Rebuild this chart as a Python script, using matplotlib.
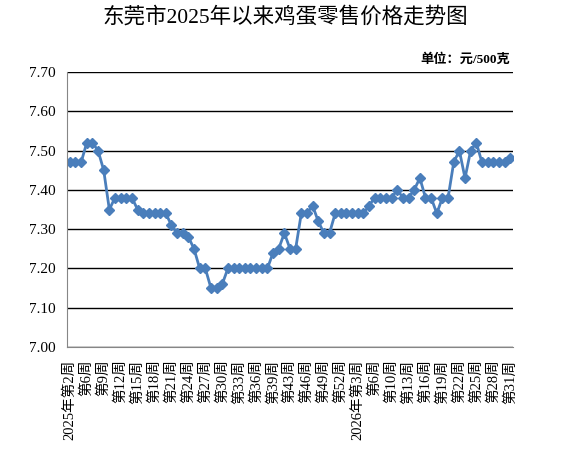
import matplotlib
matplotlib.use('Agg')
import matplotlib.pyplot as plt
import numpy as np

plt.rcParams['font.family'] = ['Liberation Serif', 'Noto Sans CJK SC']

# weeks shown on the x axis (some holiday weeks have no data)
weeks_2025 = [2] + list(range(4, 40)) + list(range(41, 53))
weeks_2026 = list(range(1, 9)) + list(range(10, 32))

prices = [7.47, 7.47, 7.47, 7.52, 7.52, 7.50, 7.45, 7.35, 7.38, 7.38,
          7.38, 7.38, 7.35, 7.34, 7.34, 7.34, 7.34, 7.34, 7.31, 7.29,
          7.29, 7.28, 7.25, 7.20, 7.20, 7.15, 7.15, 7.16, 7.20, 7.20,
          7.20, 7.20, 7.20, 7.20, 7.20, 7.20, 7.24, 7.25, 7.29, 7.25,
          7.25, 7.34, 7.34, 7.36, 7.32, 7.29, 7.29, 7.34, 7.34, 7.34,
          7.34, 7.34, 7.34, 7.36, 7.38, 7.38, 7.38, 7.38, 7.40, 7.38,
          7.38, 7.40, 7.43, 7.38, 7.38, 7.34, 7.38, 7.38, 7.47, 7.50,
          7.43, 7.50, 7.52, 7.47, 7.47, 7.47, 7.47, 7.47, 7.48]

labels = []
for i, w in enumerate(weeks_2025):
    labels.append(('2025年' if i == 0 else '') + '第%d周' % w)
for i, w in enumerate(weeks_2026):
    labels.append(('2026年' if i == 2 else '') + '第%d周' % w)

x = np.arange(len(prices))

fig = plt.figure(figsize=(5.74, 4.65), dpi=100)
ax = fig.add_axes([67/574, 1-347/465, (513-67)/574, (347-72)/465])

ax.plot(x, prices, color='#4A7EBB', lw=2, marker='D', markersize=5,
        markeredgecolor='#4A7EBB', zorder=3)

ax.set_xlim(-0.5, len(prices) - 0.5)
ax.set_ylim(7.0, 7.7)
ax.set_yticks(np.arange(7.0, 7.71, 0.1))
ax.set_yticklabels(['%.2f' % v for v in np.arange(7.0, 7.71, 0.1)], fontsize=11)
ax.yaxis.grid(True, color='black', lw=1)
ax.set_axisbelow(True)

show = x[::3]
ax.set_xticks(show)
ax.set_xticklabels([labels[i] for i in show], rotation=90, fontsize=10.5)
ax.tick_params(axis='both', length=0)
ax.tick_params(axis='x', pad=9)
ax.tick_params(axis='y', pad=8)

for s in ['top', 'right']:
    ax.spines[s].set_visible(False)
for s in ['left', 'bottom']:
    ax.spines[s].set_color('#868686')
    ax.spines[s].set_zorder(4)

fig.text(0.497, 1-17/465, '东莞市2025年以来鸡蛋零售价格走势图', ha='center', va='center',
         fontsize=15.5)
fig.text(510/574, 1-60/465, '单位：元/500克', ha='right', va='center', fontsize=9.5,
         fontweight='bold')

plt.savefig('out.png')
